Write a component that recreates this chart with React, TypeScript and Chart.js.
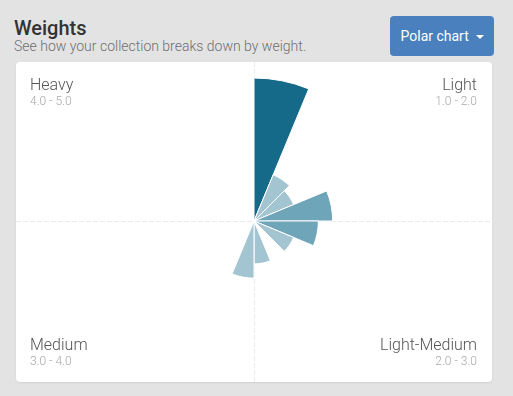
import React, { useEffect, useRef } from "react";
import { Chart, registerables } from "chart.js";

Chart.register(...registerables);

const weightBins = [
  "1.00-1.25", "1.25-1.50", "1.50-1.75", "1.75-2.00",
  "2.00-2.25", "2.25-2.50", "2.50-2.75", "2.75-3.00",
  "3.00-3.25", "3.25-3.50", "3.50-3.75", "3.75-4.00",
  "4.00-4.25", "4.25-4.50", "4.50-4.75", "4.75-5.00",
];
const gameCounts = [20, 7, 6, 11, 9, 6, 0, 6, 8, 0, 0, 0, 0, 0, 0, 0];
const DARK = "#166a89";
const MID = "#6fa5b9";
const LIGHT = "#a3c5d1";
const binColors = [DARK, LIGHT, LIGHT, MID, MID, LIGHT, LIGHT, LIGHT, LIGHT, LIGHT, LIGHT, LIGHT, LIGHT, LIGHT, LIGHT, LIGHT];
const quadrants = [
  { name: "Heavy", range: "4.0 - 5.0", pos: "tl" },
  { name: "Light", range: "1.0 - 2.0", pos: "tr" },
  { name: "Medium", range: "3.0 - 4.0", pos: "bl" },
  { name: "Light-Medium", range: "2.0 - 3.0", pos: "br" },
];

const crossPlugin = {
  id: "cross",
  beforeDatasetsDraw(chart: any) {
    const s = chart.scales.r;
    const ctx = chart.ctx;
    ctx.save();
    ctx.strokeStyle = "#ebebeb";
    ctx.lineWidth = 1;
    ctx.setLineDash([5, 2]);
    ctx.beginPath();
    ctx.moveTo(s.xCenter + 0.5, 0);
    ctx.lineTo(s.xCenter + 0.5, chart.height);
    ctx.moveTo(0, s.yCenter + 0.5);
    ctx.lineTo(chart.width, s.yCenter + 0.5);
    ctx.stroke();
    ctx.restore();
  },
};

export default function App() {
  const ref = useRef<HTMLCanvasElement>(null);
  useEffect(() => {
    const chart = new Chart(ref.current!, {
      type: "polarArea",
      data: {
        labels: weightBins,
        datasets: [
          {
            data: gameCounts,
            backgroundColor: binColors,
            borderColor: "#ffffff",
            borderWidth: 1,
          },
        ],
      },
      options: {
        animation: false,
        responsive: false,
        devicePixelRatio: 1,
        layout: { padding: { top: 16, bottom: 17, left: 0, right: 0 } },
        plugins: { legend: { display: false }, tooltip: { enabled: false } },
        scales: {
          r: {
            min: 0,
            max: 20,
            ticks: { display: false },
            grid: { display: false },
            angleLines: { display: false },
            pointLabels: { display: false },
          },
        },
      },
      plugins: [crossPlugin],
    });
    return () => chart.destroy();
  }, []);

  const font = "Roboto, 'Open Sans', sans-serif";
  const labelStyle = (pos: string): React.CSSProperties => {
    const st: React.CSSProperties = { position: "absolute", textAlign: pos[1] === "l" ? "left" : "right" };
    if (pos[1] === "l") st.left = 14; else st.right = 15;
    st.top = pos[0] === "t" ? 15.2 : 275.2;
    return st;
  };

  return (
    <div style={{ position: "fixed", left: 0, top: 0, width: 513, height: 396, background: "#e3e3e3", fontFamily: font, overflow: "hidden" }}>
      <div style={{ position: "absolute", left: 14, top: 18.2, fontSize: 20, fontWeight: 500, color: "#333", lineHeight: 1, whiteSpace: "nowrap" }}>Weights</div>
      <div style={{ position: "absolute", left: 14, top: 39.2, fontSize: 14, fontWeight: 300, color: "#6f6f6f", lineHeight: 1, whiteSpace: "nowrap" }}>
        See how your collection breaks down by weight.
      </div>
      <div style={{ position: "absolute", left: 390, top: 16, width: 104, height: 40, background: "#4a80be", borderRadius: 4 }}>
        <span style={{ position: "absolute", left: 10.5, top: 12.9, fontSize: 14, color: "#fff", lineHeight: 1, whiteSpace: "nowrap" }}>Polar chart</span>
        <span style={{ position: "absolute", left: 86, top: 19, width: 0, height: 0, borderLeft: "4px solid transparent", borderRight: "4px solid transparent", borderTop: "4px solid #fff" }} />
      </div>
      <div style={{ position: "absolute", left: 16, top: 62, width: 476, height: 320, background: "#fff", borderRadius: 4, boxShadow: "0 1px 2px rgba(0,0,0,0.08)" }}>
        <canvas ref={ref} width={476} height={320} style={{ position: "absolute", left: 0, top: 0, width: 476, height: 320 }} />
        {quadrants.map((q) => (
          <div key={q.name} style={labelStyle(q.pos)}>
            <div style={{ fontSize: 16, fontWeight: 300, color: "#555", lineHeight: "16px", whiteSpace: "nowrap" }}>{q.name}</div>
            <div style={{ fontSize: 12, fontWeight: 300, color: "#a8a8a8", lineHeight: "12px", marginTop: 1.7, whiteSpace: "nowrap" }}>{q.range}</div>
          </div>
        ))}
      </div>
    </div>
  );
}
